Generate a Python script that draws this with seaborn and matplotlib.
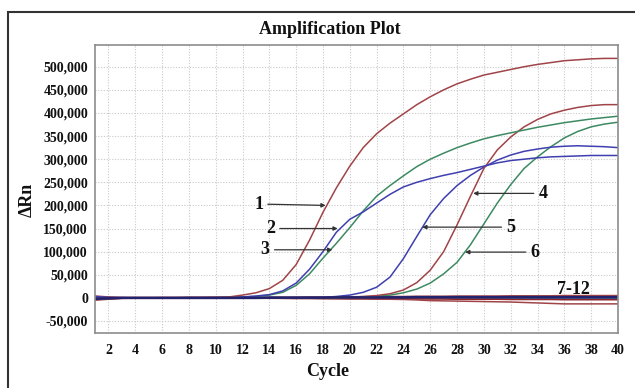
import numpy as np
import pandas as pd
import matplotlib
matplotlib.use("Agg")
import matplotlib.pyplot as plt
import seaborn as sns
from matplotlib.patches import Rectangle

cycles = list(range(1, 41))

# amplified samples
curve1 = [-2000, -1000, 0, 0, 0, 500, 500, 1000, 1000, 1500,
          2000, 6000, 11000, 20000, 38000, 72000, 125000, 185000, 238000, 285000,
          325000, 355000, 378000, 398000, 418000, 435000, 450000, 463000, 473000, 482000,
          488000, 494000, 500000, 505000, 509000, 513000, 515000, 517000, 518000, 518000]
curve2 = [3000, 1000, 500, 0, 0, 0, 0, 500, 500, 500,
          1000, 2000, 4000, 7000, 15000, 32000, 62000, 100000, 142000, 170000,
          186000, 205000, 224000, 240000, 250000, 258000, 265000, 271000, 278000, 285000,
          292000, 297000, 300000, 303000, 305000, 306000, 307000, 308000, 308000, 308000]
curve3 = [-3000, -1000, 0, 0, 0, 0, 0, 500, 500, 500,
          1000, 2000, 3000, 6000, 12000, 27000, 52000, 86000, 118000, 152000,
          188000, 220000, 243000, 264000, 284000, 300000, 313000, 325000, 335000, 344000,
          351000, 357000, 363000, 369000, 374000, 379000, 383000, 387000, 390000, 393000]
curve4 = [2000, 1000, 0, 0, 0, 0, 0, 0, 0, 0,
          0, 0, 0, 0, 0, 0, 500, 500, 1000, 1500,
          3000, 5000, 9000, 17000, 33000, 60000, 100000, 158000, 220000, 280000,
          320000, 348000, 370000, 386000, 398000, 406000, 412000, 416000, 418000, 418000]
curve5 = [-1000, 0, 0, 0, 0, 0, 0, 0, 0, 0,
          0, 0, 0, 0, 0, 500, 500, 1000, 3000, 6000,
          12000, 23000, 45000, 85000, 133000, 180000, 215000, 243000, 265000, 283000,
          298000, 309000, 317000, 322000, 326000, 328000, 329000, 328000, 327000, 325000]
curve6 = [1000, 0, 0, 0, 0, 0, 0, 0, 0, 0,
          0, 0, 0, 0, 0, 0, 0, 500, 500, 1000,
          1500, 3000, 6000, 11000, 19000, 32000, 52000, 77000, 115000, 160000,
          205000, 245000, 280000, 305000, 327000, 346000, 360000, 370000, 376000, 380000]

# negative samples 7-12
curve7 = [4000, 2000, 1000, 1000, 1000, 1000, 1000, 1000, 1000, 1000,
          1000, 1000, 1000, 1500, 1500, 1500, 2000, 2000, 2000, 2500,
          2500, 3000, 3000, 3000, 3500, 3500, 3500, 4000, 4000, 4000,
          4000, 4500, 4500, 4500, 4500, 5000, 5000, 5000, 5000, 5000]
curve8 = [-2000, -1000, 0, 0, 0, 0, 0, 0, 0, 0,
          0, 0, 0, 500, 500, 500, 500, 500, 1000, 1000,
          1000, 1000, 1000, 1000, 1500, 1500, 1500, 1500, 1500, 1500,
          1500, 1500, 1500, 1500, 1500, 1500, 1500, 1500, 1500, 1500]
curve9 = [-5000, -3000, -1000, -1000, -1000, -1000, -1000, -1000, -1000, -1000,
          -1000, -1000, -1000, -1000, -1000, -1500, -1500, -2000, -2000, -2500,
          -2500, -3000, -3000, -3500, -4500, -6000, -6500, -7000, -7500, -8000,
          -8500, -9000, -10000, -11000, -12000, -13000, -13000, -13000, -13000, -13000]
curve10 = [-3000, -1500, -500, 0, 0, 0, 0, 0, 0, 0,
           0, 0, 0, 0, 0, 0, 0, 0, 0, 0,
           0, 0, 0, 0, 0, 500, 500, 500, 500, 500,
           500, 500, 500, 500, 500, 500, 500, 500, 500, 500]
curve11 = [-4000, -2000, -1000, -500, -500, -500, -500, -500, -500, -500,
           -500, -500, -500, -500, -1000, -1000, -1000, -1000, -1500, -1500,
           -1500, -2000, -2000, -2000, -2500, -2500, -2500, -3000, -3000, -3000,
           -3000, -3500, -3500, -3500, -3500, -4000, -4000, -4000, -4000, -4000]
curve12 = [2000, 1000, 0, 0, 0, 0, 0, 0, 0, 0,
           0, 0, 0, 0, 0, 0, 0, 0, 0, 0,
           -500, -500, -500, -500, -500, -500, -500, -500, -500, -500,
           -500, -500, -500, -500, -500, -500, -500, -500, -500, -500]

xticks = list(range(2, 41, 2))
yticks = [-50000, 0, 50000, 100000, 150000, 200000, 250000, 300000, 350000, 400000, 450000, 500000]
ytick_labels = ["-50,000", "0", "50,000", "100,000", "150,000", "200,000", "250,000",
                "300,000", "350,000", "400,000", "450,000", "500,000"]

red = "#a04448"
blue = "#3f3fb0"
green = "#3d8a62"
dred = "#8e2228"
navy = "#22236e"

sns.set_theme(style="whitegrid")
plt.rcParams["font.family"] = ["Liberation Serif", "DejaVu Serif"]
plt.rcParams["font.weight"] = "bold"

fig = plt.figure(figsize=(6.35, 3.88), dpi=100)
fig.patch.set_facecolor("white")
ax = fig.add_axes([95 / 635, 1 - 333 / 388, 523 / 635, 288 / 388])

series = [(curve12, green), (curve10, blue), (curve11, dred), (curve7, red),
          (curve9, red), (curve8, navy),
          (curve6, green), (curve5, blue), (curve4, red),
          (curve3, green), (curve2, blue), (curve1, red)]
for vals, col in series:
    sns.lineplot(x=cycles, y=vals, color=col, linewidth=1.1, ax=ax)
# thick navy baseline on top
sns.lineplot(x=cycles, y=curve8, color=navy, linewidth=1.8, ax=ax)

ax.set_xlim(1, 40)
ax.set_ylim(-76000, 547000)
ax.set_xticks(xticks)
ax.set_yticks(yticks)
ax.set_yticklabels(ytick_labels)
ax.grid(True, color="#c9c9c9", linestyle=(0, (1, 1.5)), linewidth=0.8)
for s in ax.spines.values():
    s.set_color("#8c8c8c")
    s.set_linewidth(1.2)
ax.tick_params(axis="both", which="major", length=3, width=0.8, color="#8c8c8c",
               labelsize=10, labelcolor="#111111")
ax.tick_params(axis="x", pad=5)
ax.tick_params(axis="y", pad=2)
for lab in ax.get_xticklabels() + ax.get_yticklabels():
    lab.set_fontweight("bold")
ax.set_xlabel("")
ax.set_ylabel("")

# curve labels with arrows
arrow = dict(arrowstyle="-|>", color="#333333", lw=0.9, mutation_scale=6, shrinkA=1, shrinkB=0)
labels = [("1", (13.2, 203000), (18.2, 200000)),
          ("2", (14.1, 150000), (19.1, 150000)),
          ("3", (13.7, 104000), (18.7, 104000)),
          ("4", (34.4, 226000), (29.2, 226000)),
          ("5", (32.0, 153000), (25.4, 153000)),
          ("6", (33.8, 99000), (28.6, 99000))]
for txt, tpos, tip in labels:
    ax.annotate(txt, xy=tip, xytext=tpos, fontsize=13, fontweight="bold",
                ha="center", va="center", color="#111111", arrowprops=arrow)
ax.text(36.7, 19000, "7-12", fontsize=13, fontweight="bold", ha="center", va="center",
        color="#111111")

fig.text(330 / 635, 1 - 30 / 388, "Amplification Plot", fontsize=13, fontweight="bold",
         ha="center", va="center", color="#111111")
fig.text(328 / 635, 1 - 371 / 388, "Cycle", fontsize=13, fontweight="bold",
         ha="center", va="center", color="#111111")
fig.text(27 / 635, 1 - 200 / 388, "ΔRn", fontsize=13, fontweight="bold", rotation=90,
         ha="center", va="center", color="#111111")

# outer frame
fig.patches.append(Rectangle((8 / 635, -0.2), 1.2, 1.2 - 12 / 388 , transform=fig.transFigure,
                             fill=False, edgecolor="#333333", linewidth=1.5))

fig.savefig("out.png", dpi=100)
